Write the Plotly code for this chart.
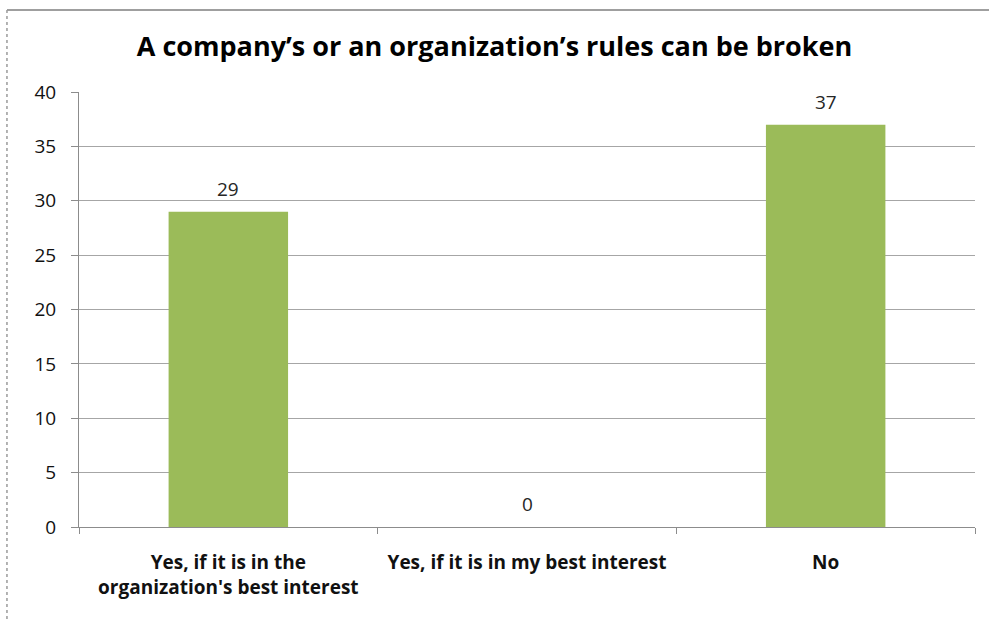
import plotly.graph_objects as go

# Survey responses: "A company's or an organization's rules can be broken"
categories = [
    "Yes, if it is in the<br>organization's best interest",
    "Yes, if it is in my best interest",
    "No",
]
counts = [29, 0, 37]
y_ticks = [0, 5, 10, 15, 20, 25, 30, 35, 40]

FONT = "Open Sans, Liberation Sans, sans-serif"
GRID = "#A6A6A6"
AXIS = "#8C8C8C"

fig = go.Figure(
    go.Bar(
        x=categories,
        y=counts,
        marker=dict(color="#9BBB59", line=dict(width=0)),
        hoverinfo="x+y",
    )
)

# Value labels sitting above each bar
for cat, val in zip(categories, counts):
    fig.add_annotation(
        x=cat, y=val, xref="x", yref="y",
        text=str(val), showarrow=False,
        yanchor="bottom", yshift=8,
        font=dict(family=FONT, size=19, color="#262626"),
    )

fig.update_layout(
    width=989,
    height=619,
    margin=dict(l=79, r=14, t=92, b=92),
    paper_bgcolor="white",
    plot_bgcolor="white",
    bargap=0.6,
    showlegend=False,
    title=dict(
        text="<b>A company’s or an organization’s rules can be broken</b>",
        x=0.5,
        xanchor="center",
        y=0.925,
        yanchor="middle",
        font=dict(family=FONT, size=27, color="black"),
    ),
    xaxis=dict(
        type="category",
        showline=True,
        linecolor=AXIS,
        linewidth=1,
        ticks="outside",
        tickson="boundaries",
        ticklen=6,
        tickcolor=AXIS,
        showgrid=False,
        ticklabelstandoff=18,
        tickfont=dict(family=FONT, size=19, color="#111111", weight="bold"),
    ),
    yaxis=dict(
        range=[0, 40],
        tickvals=y_ticks,
        showline=True,
        linecolor=AXIS,
        linewidth=1,
        ticks="outside",
        ticklen=7,
        tickcolor=AXIS,
        showgrid=True,
        gridcolor=GRID,
        gridwidth=1,
        zeroline=False,
        ticklabelstandoff=11,
        tickfont=dict(family=FONT, size=19, color="#111111"),
    ),
)

# Frame around the chart: solid top edge, dotted left edge
fig.add_shape(type="line", xref="paper", yref="paper",
              x0=-0.0804, x1=1.02, y0=1.1885, y1=1.1885,
              line=dict(color="#7F7F7F", width=1.5))
fig.add_shape(type="line", xref="paper", yref="paper",
              x0=-0.0804, x1=-0.0804, y0=1.1885, y1=-0.22,
              line=dict(color="#9A9A9A", width=1.5, dash="dot"))

fig.write_html("out.html")
